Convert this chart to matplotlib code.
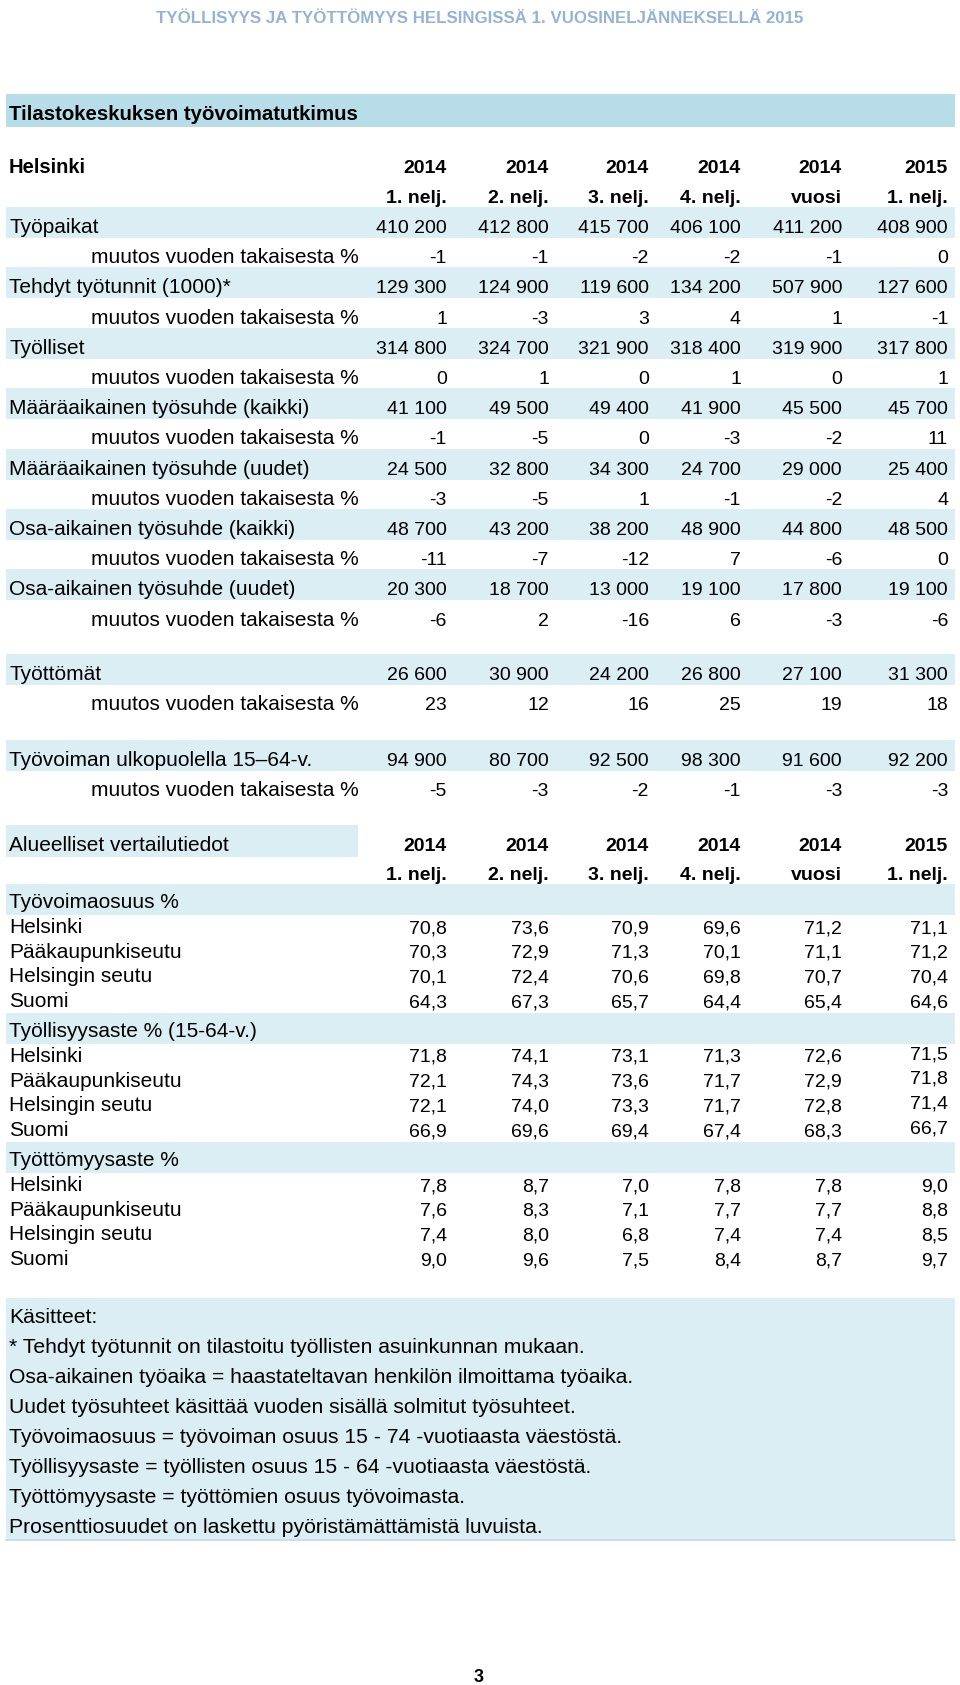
"""Helsinki employment table (Q1 2015) redrawn as a matplotlib figure."""

import matplotlib
matplotlib.use("Agg")
import matplotlib.pyplot as plt
from matplotlib.patches import Rectangle

W, H = 960, 1685

BAND       = "#daeef3"
BAND_DARK  = "#b7dde8"
TITLE_BLUE = "#95b3d7"
RULE       = "#c3dbe3"

FONT   = ["Liberation Sans", "DejaVu Sans"]
NARROW = ["Liberation Sans Narrow", "Liberation Sans", "DejaVu Sans"]

# ── data ──────────────────────────────────────────────────────────────────────

title = "TYÖLLISYYS JA TYÖTTÖMYYS HELSINGISSÄ 1. VUOSINELJÄNNEKSELLÄ 2015"

years   = [2014, 2014, 2014, 2014, 2014, 2015]
periods = ["1. nelj.", "2. nelj.", "3. nelj.", "4. nelj.", "vuosi", "1. nelj."]

change_label = "muutos vuoden takaisesta %"

tyopaikat          = [410200, 412800, 415700, 406100, 411200, 408900]
tyopaikat_chg      = [-1, -1, -2, -2, -1, 0]
tyotunnit          = [129300, 124900, 119600, 134200, 507900, 127600]
tyotunnit_chg      = [1, -3, 3, 4, 1, -1]
tyolliset          = [314800, 324700, 321900, 318400, 319900, 317800]
tyolliset_chg      = [0, 1, 0, 1, 0, 1]
maaraaik_kaikki    = [41100, 49500, 49400, 41900, 45500, 45700]
maaraaik_kaikki_ch = [-1, -5, 0, -3, -2, 11]
maaraaik_uudet     = [24500, 32800, 34300, 24700, 29000, 25400]
maaraaik_uudet_ch  = [-3, -5, 1, -1, -2, 4]
osaaik_kaikki      = [48700, 43200, 38200, 48900, 44800, 48500]
osaaik_kaikki_ch   = [-11, -7, -12, 7, -6, 0]
osaaik_uudet       = [20300, 18700, 13000, 19100, 17800, 19100]
osaaik_uudet_ch    = [-6, 2, -16, 6, -3, -6]
tyottomat          = [26600, 30900, 24200, 26800, 27100, 31300]
tyottomat_chg      = [23, 12, 16, 25, 19, 18]
ulkopuolella       = [94900, 80700, 92500, 98300, 91600, 92200]
ulkopuolella_chg   = [-5, -3, -2, -1, -3, -3]

regions = ["Helsinki", "Pääkaupunkiseutu", "Helsingin seutu", "Suomi"]

tyovoimaosuus = [
    [70.8, 73.6, 70.9, 69.6, 71.2, 71.1],
    [70.3, 72.9, 71.3, 70.1, 71.1, 71.2],
    [70.1, 72.4, 70.6, 69.8, 70.7, 70.4],
    [64.3, 67.3, 65.7, 64.4, 65.4, 64.6],
]
tyollisyysaste = [
    [71.8, 74.1, 73.1, 71.3, 72.6, 71.5],
    [72.1, 74.3, 73.6, 71.7, 72.9, 71.8],
    [72.1, 74.0, 73.3, 71.7, 72.8, 71.4],
    [66.9, 69.6, 69.4, 67.4, 68.3, 66.7],
]
tyottomyysaste = [
    [7.8, 8.7, 7.0, 7.8, 7.8, 9.0],
    [7.6, 8.3, 7.1, 7.7, 7.7, 8.8],
    [7.4, 8.0, 6.8, 7.4, 7.4, 8.5],
    [9.0, 9.6, 7.5, 8.4, 8.7, 9.7],
]

notes = [
    "Käsitteet:",
    "* Tehdyt työtunnit on tilastoitu työllisten asuinkunnan mukaan.",
    "Osa-aikainen työaika = haastateltavan henkilön ilmoittama työaika.",
    "Uudet työsuhteet käsittää vuoden sisällä solmitut työsuhteet.",
    "Työvoimaosuus = työvoiman osuus 15 - 74 -vuotiaasta väestöstä.",
    "Työllisyysaste = työllisten osuus 15 - 64 -vuotiaasta väestöstä.",
    "Työttömyysaste = työttömien osuus työvoimasta.",
    "Prosenttiosuudet on laskettu pyöristämättämistä luvuista.",
]

main_rows = [
    ("Työpaikat", tyopaikat, tyopaikat_chg),
    ("Tehdyt työtunnit (1000)*", tyotunnit, tyotunnit_chg),
    ("Työlliset", tyolliset, tyolliset_chg),
    ("Määräaikainen työsuhde (kaikki)", maaraaik_kaikki, maaraaik_kaikki_ch),
    ("Määräaikainen työsuhde (uudet)", maaraaik_uudet, maaraaik_uudet_ch),
    ("Osa-aikainen työsuhde (kaikki)", osaaik_kaikki, osaaik_kaikki_ch),
    ("Osa-aikainen työsuhde (uudet)", osaaik_uudet, osaaik_uudet_ch),
]
extra_rows = [
    ("Työttömät", tyottomat, tyottomat_chg),
    ("Työvoiman ulkopuolella 15\u201364-v.", ulkopuolella, ulkopuolella_chg),
]
rate_groups = [
    ("Työvoimaosuus %", tyovoimaosuus),
    ("Työllisyysaste % (15-64-v.)", tyollisyysaste),
    ("Työttömyysaste %", tyottomyysaste),
]

# ── layout ────────────────────────────────────────────────────────────────────

COL_X   = [447, 549, 649, 741, 842, 948]   # right edges of value columns
LABEL_X = 9
INDENT  = 91
LEFT, RIGHT = 6, 955
FS  = 14      # numbers
LFS = 15      # row labels (the original text is letter-spaced)


def thousands(v):
    return f"{v:,}".replace(",", " ")


def decimal(v):
    return f"{v:.1f}".replace(".", ",")


fig = plt.figure(figsize=(W / 100, H / 100), dpi=100)
ax = fig.add_axes([0, 0, 1, 1])
ax.set_xlim(0, W)
ax.set_ylim(H, 0)
ax.axis("off")


def txt(x, y, s, ha="left", bold=False, size=FS, color="black", family=FONT):
    ax.text(x, y, s, ha=ha, va="baseline", fontsize=size, color=color,
            fontweight="bold" if bold else "normal", family=family)


def label(x, y, s, bold=False, size=LFS):
    txt(x, y, s, bold=bold, size=size)


def band(top, h=31, left=LEFT, right=RIGHT, color=BAND):
    ax.add_patch(Rectangle((left, top), right - left, h, facecolor=color,
                           edgecolor="none", lw=0))


def row_values(y, vals, fmt, dy_last=0):
    for i, (x, v) in enumerate(zip(COL_X, vals)):
        txt(x, y - (dy_last if i == len(vals) - 1 else 0), fmt(v), ha="right")


def header(y1, y2):
    for x, yr, p in zip(COL_X, years, periods):
        txt(x, y1, str(yr), ha="right", bold=True)
        txt(x, y2, p, ha="right", bold=True)


# title
txt(480, 23, title, ha="center", bold=True, size=12.2, color=TITLE_BLUE,
    family=NARROW)

# section: Tilastokeskuksen työvoimatutkimus
band(94, 33, color=BAND_DARK)
label(LABEL_X, 120, "Tilastokeskuksen työvoimatutkimus", bold=True, size=14.7)

label(LABEL_X, 173, "Helsinki", bold=True, size=14.5)
header(173, 203)

PITCH = 30.2
for i, (name, vals, chg) in enumerate(main_rows):
    y = 233 + 2 * i * PITCH
    band(y - 26)
    label(LABEL_X, y, name)
    row_values(y, vals, thousands)
    label(INDENT, y + PITCH, change_label)
    row_values(y + PITCH, chg, str)

for y, (name, vals, chg) in zip([680, 766], extra_rows):
    band(y - 26)
    label(LABEL_X, y, name)
    row_values(y, vals, thousands)
    label(INDENT, y + 30, change_label)
    row_values(y + 30, chg, str)

# section: regional comparison
band(825, 32, right=358)
label(LABEL_X, 851, "Alueelliset vertailutiedot")
header(851, 880)

for g, (name, table) in enumerate(rate_groups):
    base = 908 + 129 * g
    band(base - 24, 31)
    label(LABEL_X, base, name)
    for k, (reg, vals) in enumerate(zip(regions, table)):
        y = base + 25 + 24.67 * k
        label(LABEL_X, y, reg)
        row_values(y, vals, decimal, dy_last=3 if g == 1 else 0)

# notes box
band(1298, 242)
ax.plot([LEFT, RIGHT], [1540, 1540], color=RULE, lw=1.2)
for k, line in enumerate(notes):
    label(LABEL_X, 1323 + 30 * k, line, size=15.2)

# page number
txt(479, 1682, "3", ha="center", bold=True, size=13)

fig.savefig("out.png", dpi=100)
plt.close(fig)
print("Saved out.png")
